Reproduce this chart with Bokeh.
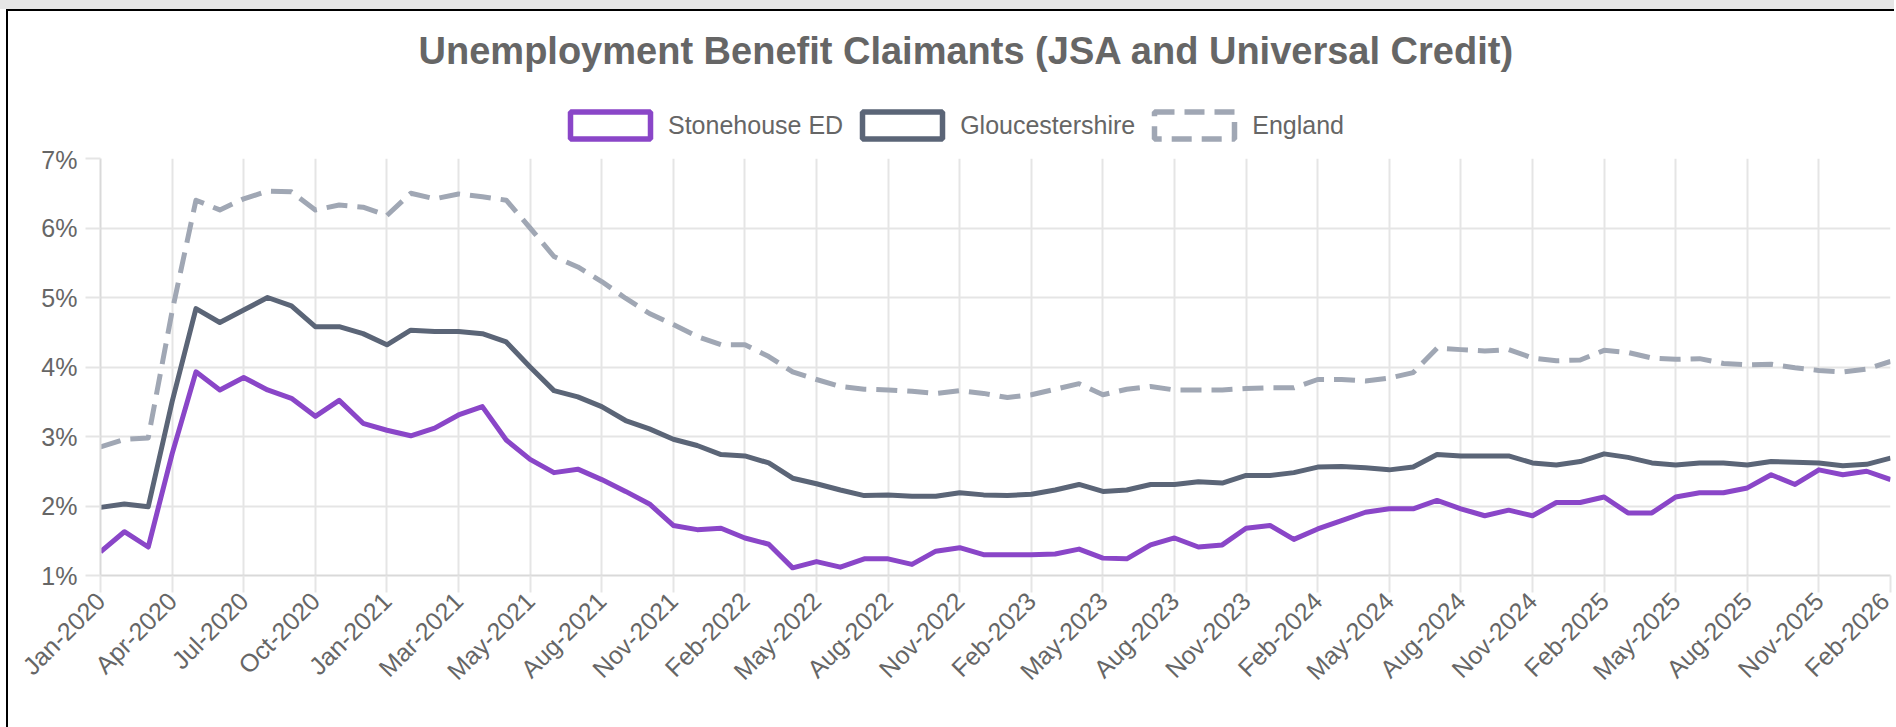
import math
import numpy as np
from bokeh.plotting import figure
from bokeh.layouts import column
from bokeh.models import (Range1d, FixedTicker, Legend, LegendItem, ColumnDataSource,
                          PrintfTickFormatter, Label)
from bokeh.embed import file_html
from bokeh.resources import INLINE

# ---- data -------------------------------------------------------------
months = [
    "Jan-2020", "Feb-2020", "Mar-2020", "Apr-2020", "May-2020", "Jun-2020",
    "Jul-2020", "Aug-2020", "Sep-2020", "Oct-2020", "Nov-2020", "Dec-2020",
    "Jan-2021", "Feb-2021", "Feb-2021", "Mar-2021", "Apr-2021", "Apr-2021",
    "May-2021", "Jun-2021", "Jul-2021", "Aug-2021", "Sep-2021", "Oct-2021",
    "Nov-2021", "Dec-2021", "Jan-2022", "Feb-2022", "Mar-2022", "Apr-2022",
    "May-2022", "Jun-2022", "Jul-2022", "Aug-2022", "Sep-2022", "Oct-2022",
    "Nov-2022", "Dec-2022", "Jan-2023", "Feb-2023", "Mar-2023", "Apr-2023",
    "May-2023", "Jun-2023", "Jul-2023", "Aug-2023", "Sep-2023", "Oct-2023",
    "Nov-2023", "Dec-2023", "Jan-2024", "Feb-2024", "Mar-2024", "Apr-2024",
    "May-2024", "Jun-2024", "Jul-2024", "Aug-2024", "Sep-2024", "Oct-2024",
    "Nov-2024", "Dec-2024", "Jan-2025", "Feb-2025", "Mar-2025", "Apr-2025",
    "May-2025", "Jun-2025", "Jul-2025", "Aug-2025", "Sep-2025", "Oct-2025",
    "Nov-2025", "Dec-2025", "Jan-2026", "Feb-2026",
]

stonehouse = [
    1.34, 1.63, 1.41, 2.75, 3.93, 3.67, 3.85, 3.67, 3.55, 3.29, 3.52, 3.19,
    3.09, 3.01, 3.12, 3.31, 3.43, 2.95, 2.67, 2.48, 2.53, 2.38, 2.21, 2.03,
    1.72, 1.66, 1.68, 1.54, 1.45, 1.11, 1.20, 1.12, 1.24, 1.24, 1.16, 1.35,
    1.40, 1.30, 1.30, 1.30, 1.31, 1.38, 1.25, 1.24, 1.44, 1.54, 1.41, 1.44,
    1.68, 1.72, 1.52, 1.67, 1.79, 1.91, 1.96, 1.96, 2.08, 1.96, 1.86, 1.94,
    1.86, 2.05, 2.05, 2.13, 1.90, 1.90, 2.13, 2.19, 2.19, 2.26, 2.45, 2.31,
    2.52, 2.45, 2.50, 2.38,
]

gloucestershire = [
    1.98, 2.03, 1.99, 3.50, 4.84, 4.64, 4.82, 5.00, 4.88, 4.58, 4.58, 4.48,
    4.32, 4.53, 4.51, 4.51, 4.48, 4.36, 4.00, 3.66, 3.57, 3.43, 3.23, 3.11,
    2.96, 2.87, 2.74, 2.72, 2.62, 2.40, 2.32, 2.23, 2.15, 2.16, 2.14, 2.14,
    2.19, 2.16, 2.15, 2.17, 2.23, 2.31, 2.21, 2.23, 2.31, 2.31, 2.35, 2.33,
    2.44, 2.44, 2.48, 2.56, 2.57, 2.55, 2.52, 2.56, 2.74, 2.72, 2.72, 2.72,
    2.62, 2.59, 2.64, 2.75, 2.70, 2.62, 2.59, 2.62, 2.62, 2.59, 2.64, 2.63,
    2.62, 2.58, 2.60, 2.69,
]

england = [
    2.85, 2.96, 2.98, 4.80, 6.40, 6.26, 6.42, 6.53, 6.52, 6.26, 6.33, 6.30,
    6.18, 6.50, 6.42, 6.49, 6.45, 6.40, 6.00, 5.59, 5.44, 5.23, 4.99, 4.77,
    4.61, 4.44, 4.32, 4.32, 4.15, 3.93, 3.82, 3.72, 3.68, 3.67, 3.65, 3.62,
    3.66, 3.62, 3.56, 3.60, 3.68, 3.76, 3.60, 3.68, 3.72, 3.67, 3.67, 3.67,
    3.69, 3.70, 3.70, 3.82, 3.82, 3.80, 3.84, 3.92, 4.27, 4.25, 4.23, 4.25,
    4.13, 4.09, 4.10, 4.24, 4.21, 4.13, 4.11, 4.12, 4.05, 4.03, 4.04, 3.99,
    3.95, 3.93, 3.97, 4.08,
]

series_names = ["Stonehouse ED", "Gloucestershire", "England"]
y_ticks = [1, 2, 3, 4, 5, 6, 7]
title_text = "Unemployment Benefit Claimants (JSA and Universal Credit)"

# ---- styling ----------------------------------------------------------
FONT = "Liberation Sans"
TEXT = "#666666"
GRID = "#e5e5e5"
PURPLE = "#8a46c8"
SLATE = "#5b6577"
GREY = "#a0a7b4"

W = 1894
TOP_H = 145          # header figure (title + legend)
H = 727 - TOP_H      # chart figure
LEFT, RIGHT, TOP, BOTTOM = 100, 4, 13, 152

idx = list(range(len(months)))
tick_idx = list(range(0, len(months), 3))

# ---- header figure: title + legend -------------------------------------
head = figure(width=W, height=TOP_H, output_backend="svg", toolbar_location=None,
              x_range=Range1d(0, 1), y_range=Range1d(0, 1),
              x_axis_type=None, y_axis_type=None,
              min_border=0, min_border_left=0, min_border_right=0,
              min_border_top=0, min_border_bottom=0)
head.outline_line_color = None
head.background_fill_alpha = 0
head.border_fill_alpha = 0
# page decoration (grey strip and black container border) drawn as CSS background
head.styles = {
    "background": ("linear-gradient(#000,#000) 6px 9px / 2px 100% no-repeat, "
                   "linear-gradient(#000,#000) 6px 9px / 100% 2px no-repeat, "
                   "linear-gradient(#e6e6e6,#e6e6e6) 0 0 / 100% 9px no-repeat, #ffffff"),
}

# the header frame is aligned with the chart frame (starts at x = LEFT)
head.add_layout(Label(x=966 - LEFT, y=TOP_H - 50, x_units="screen", y_units="screen",
                      text=title_text, text_align="center", text_baseline="alphabetic",
                      text_font=FONT, text_font_size="38px",
                      text_font_style="bold", text_color=TEXT))

nan_src = ColumnDataSource(dict(l=np.array([np.nan]), r=np.array([np.nan]),
                                t=np.array([np.nan]), b=np.array([np.nan])))
swatches = []
for col, dash in [(PURPLE, "solid"), (SLATE, "solid"), (GREY, "20 10")]:
    swatches.append(head.quad(left="l", right="r", top="t", bottom="b", source=nan_src,
                              fill_color="white", line_color=col, line_width=5.5,
                              line_dash=dash))
legend = Legend(items=[LegendItem(label=n, renderers=[r]) for n, r in zip(series_names, swatches)],
                orientation="horizontal", location=(560 - LEFT, 3),
                glyph_width=100, glyph_height=34, label_standoff=8, spacing=9,
                label_text_font=FONT, label_text_font_size="25px",
                label_text_color=TEXT, padding=0, margin=0,
                border_line_alpha=0, background_fill_alpha=0)
head.add_layout(legend, "center")

# ---- chart figure -----------------------------------------------------
p = figure(width=W, height=H, output_backend="svg", toolbar_location=None,
           x_range=Range1d(0, len(months) - 1), y_range=Range1d(y_ticks[0], y_ticks[-1]),
           min_border_left=LEFT, min_border_right=RIGHT, min_border_top=TOP,
           min_border_bottom=BOTTOM)
p.outline_line_color = None
p.background_fill_color = "white"
p.border_fill_alpha = 0
p.styles = {"background": "linear-gradient(#000,#000) 6px 0 / 2px 100% no-repeat, #ffffff"}

src = ColumnDataSource(dict(x=idx, s=stonehouse, g=gloucestershire, e=england))
p.line("x", "e", source=src, line_color=GREY, line_width=5, line_dash="21 10",
       line_join="round")
p.line("x", "g", source=src, line_color=SLATE, line_width=5, line_join="round")
p.line("x", "s", source=src, line_color=PURPLE, line_width=5, line_join="round")

p.xaxis.ticker = FixedTicker(ticks=tick_idx)
p.xaxis.major_label_overrides = {i: months[i] for i in tick_idx}
p.xaxis.major_label_orientation = math.pi / 4
p.xaxis.major_label_standoff = 4
p.yaxis.ticker = FixedTicker(ticks=y_ticks)
p.yaxis.formatter = PrintfTickFormatter(format="%d%%")
p.yaxis.major_label_standoff = 8

for ax in (p.xaxis, p.yaxis):
    ax.major_label_text_font = FONT
    ax.major_label_text_font_size = "25px"
    ax.major_label_text_color = TEXT
    ax.axis_line_color = "#d9d9d9"
    ax.axis_line_width = 2
    ax.major_tick_line_color = GRID
    ax.major_tick_line_width = 2
    ax.major_tick_in = 0
    ax.minor_tick_line_color = None
p.xaxis.major_tick_out = 17
p.yaxis.major_tick_out = 15

p.xgrid.ticker = FixedTicker(ticks=tick_idx)
p.grid.grid_line_color = GRID
p.grid.grid_line_width = 2

layout = column(head, p, spacing=0)
open("out.html", "w").write(file_html(layout, INLINE))
